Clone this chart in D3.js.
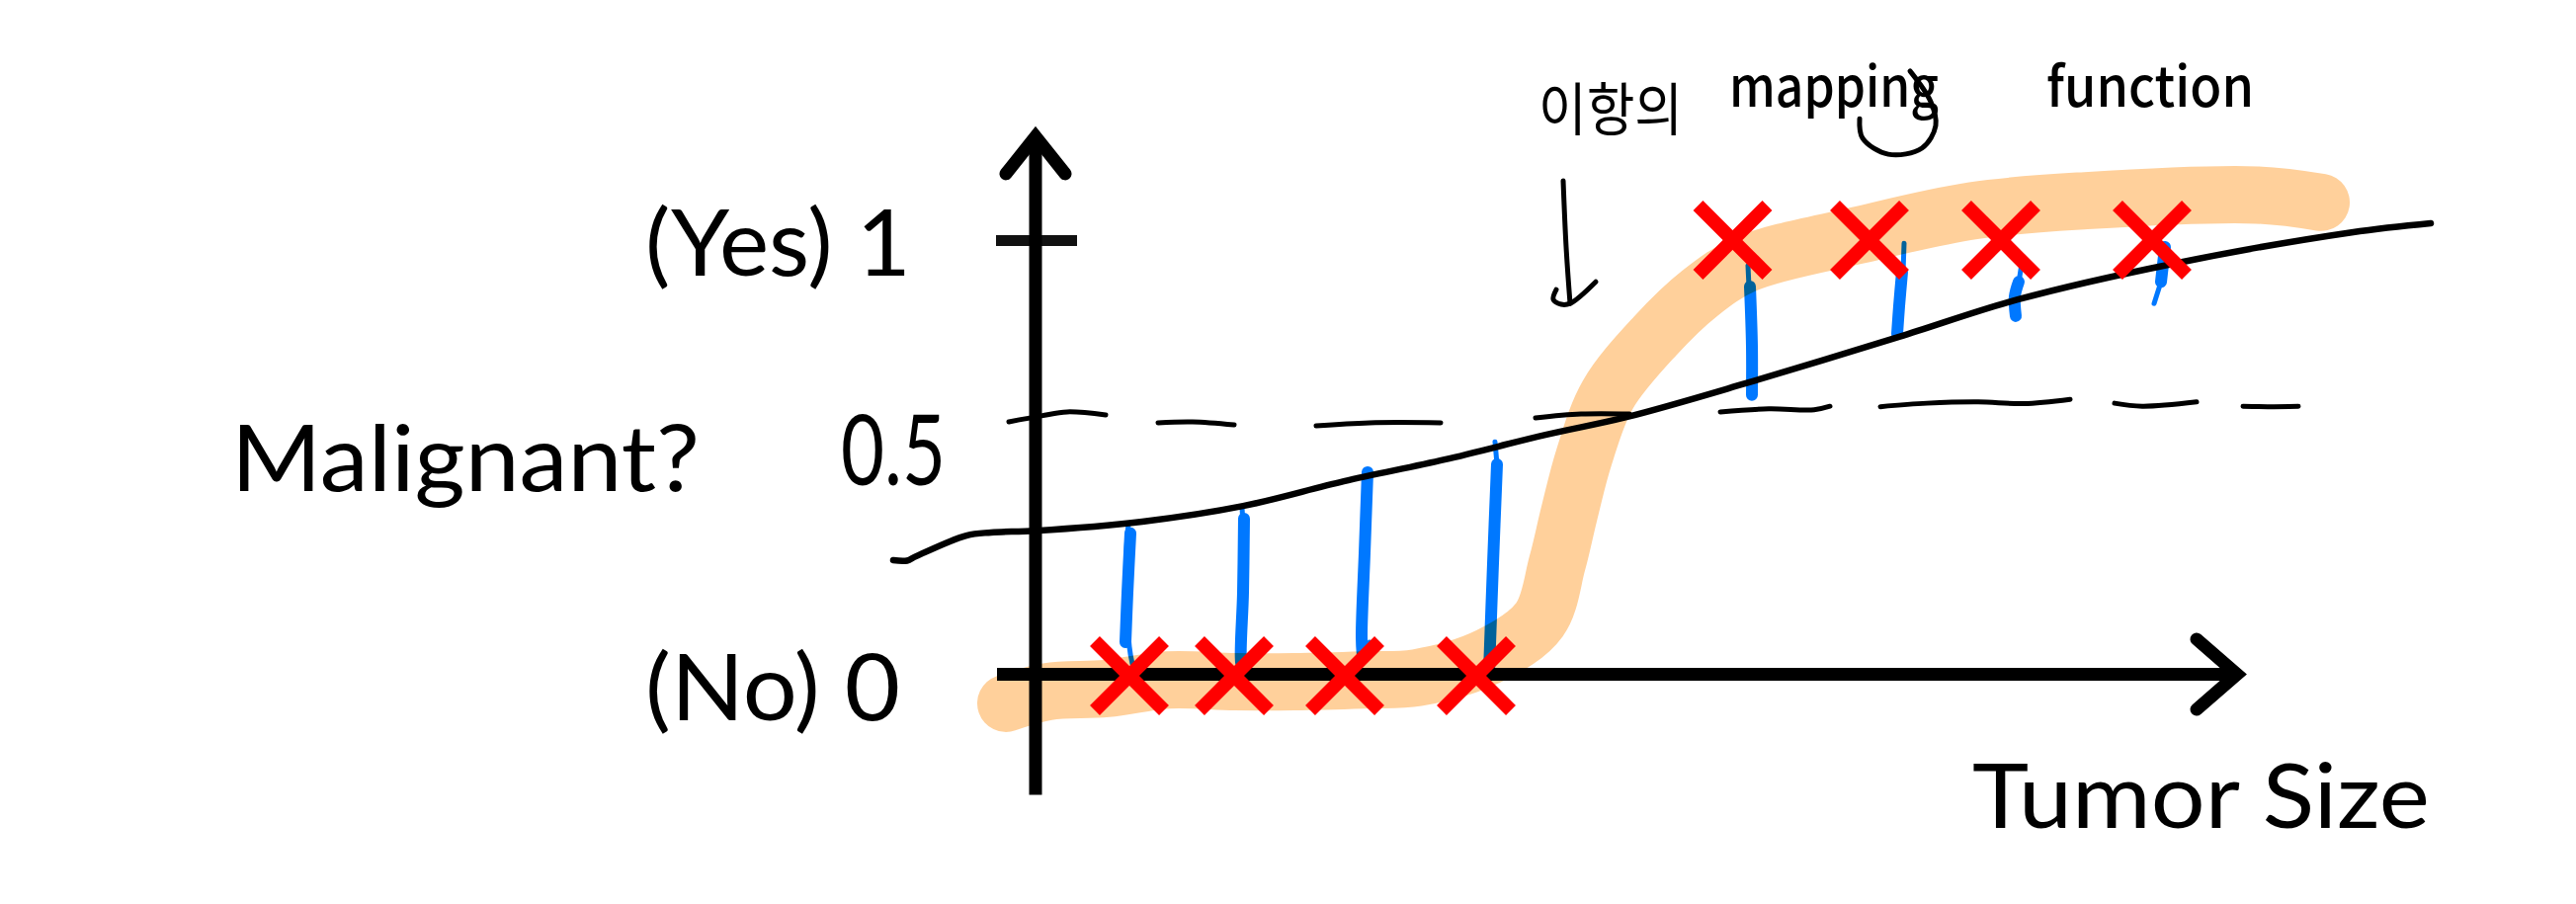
<!DOCTYPE html>
<html><head><meta charset="utf-8">
<script src="https://cdnjs.cloudflare.com/ajax/libs/d3/7.8.5/d3.min.js"></script>
<style>html,body{margin:0;padding:0;background:#fff}svg{display:block}</style>
</head><body><div id="chart"></div>
<script>
// ---- data (tumor size, malignancy) ----
const yTickValues = [0, 1];
const yTickLabels = ["(No) 0", "(Yes) 1"];
const noCases  = [95, 201, 313, 446];
const yesCases = [705.5, 844, 977, 1130];
const sizeExtent = [-39, 1216];
const malignantExtent = [-0.278, 1.24];

const idealSizes = [-30,12,72,134,202,261,332,386,459,510,528,540,555,579,627,672,719,834,949,1063,1236,1301];
const idealValues = [-.067,-.040,-.033,-.013,-.017,-.017,-.013,-.008,.042,.126,.256,.370,.500,.644,.780,.878,.946,1.013,1.069,1.092,1.105,1.088];

const fitSizes = [-144,-130,-121,-70,-45,0,108,210,312,414,516,598,719,874,994,1150,1332,1412];
const fitValues = [.263,.262,.272,.320,.327,.331,.352,.388,.445,.495,.552,.593,.671,.778,.864,.946,1.019,1.040];

const thresholdDashes = [
  [[-27,.582],[6,.596],[32,.605],[71,.598]],
  [[124,.580],[159,.582],[201,.575]],
  [[284,.573],[338,.580],[410,.580]],
  [[506,.591],[552,.600],[601,.600]],
  [[693,.605],[742,.612],[788,.610],[804,.618]],
  [[855,.617],[902,.625],[954,.628],[1000,.624],[1047,.634]],
  [[1092,.625],[1120,.618],[1175,.628]],
  [[1222,.618],[1247,.617],[1278,.618]]
];
const errorThick = [
  [[96,.325],[93,.188],[91,.074]],
  [[211,.359],[210,.188],[208,.028],[210,.013]],
  [[336,.466],[333,.279],[330,.085],[331,.042]],
  [[467,.484],[463,.256],[459,.006]],
  [[723,.894],[725,.757],[725,.644]],
  [[877,.928],[874,.849],[872,.785]],
  [[995,.905],[991,.871],[992,.826]],
  [[1143,.985],[1139,.905]]
];
const errorThin = [
  [[94,.347],[92,.279],[95,.063],[98,.024]],
  [[209,.384],[210,.347]],
  [[338,.074],[331,.042]],
  [[465,.536],[467,.484]],
  [[721,.942],[722,.894]],
  [[879,.994],[878,.928]],
  [[999,.962],[996,.917]],
  [[1139,.905],[1132,.855]]
];
const noteArrowShaft = [[534,1.138],[537,.985],[541,.855]];
const noteArrowHead = [[527,.887],[524,.864],[532,.853],[541,.855],[567,.905]];
const noteTail = [[834,1.281],[837,1.236],[863,1.199],[897,1.213],[911,1.265],[906,1.320],[885,1.391]];

// ---- scales ----
const W = 2607, H = 915;
const x = d3.scaleLinear().domain([0, 1226]).range([1048, 2274]);
const y = d3.scaleLinear().domain([0, 1]).range([682.5, 243.5]);
const line = d3.line().x(d => x(d[0])).y(d => y(d[1]));
const smooth = d3.line().x(d => x(d[0])).y(d => y(d[1])).curve(d3.curveCatmullRom.alpha(0.5));

const svg = d3.select("#chart").append("svg").attr("width", W).attr("height", H).attr("viewBox", `0 0 ${W} ${H}`);
svg.append("rect").attr("width", W).attr("height", H).attr("fill", "#fff");

const FONT = "Lato, 'Open Sans', sans-serif";
const HAND = "'Noto Sans CJK KR', 'Noto Sans', sans-serif";

// blue error bars
svg.append("g").selectAll("path").data(errorThick).join("path").attr("d", smooth)
  .attr("fill","none").attr("stroke","#0078ff").attr("stroke-width",12).attr("stroke-linecap","round");
svg.append("g").selectAll("path").data(errorThin).join("path").attr("d", smooth)
  .attr("fill","none").attr("stroke","#0078ff").attr("stroke-width",5).attr("stroke-linecap","round");

// hand-drawn threshold & fitted line
svg.append("g").selectAll("path").data(thresholdDashes).join("path").attr("d", smooth)
  .attr("fill","none").attr("stroke","#000").attr("stroke-width",5).attr("stroke-linecap","round");
svg.append("path").attr("d", smooth(fitSizes.map((s,i)=>[s,fitValues[i]])))
  .attr("fill","none").attr("stroke","#000").attr("stroke-width",6.5).attr("stroke-linecap","round");

// axes
const yAxis = d3.axisLeft(y).tickValues(yTickValues).tickSize(0).tickFormat((d,i)=>yTickLabels[i]);
const yG = svg.append("g").attr("transform", `translate(${x(0)},0)`).call(yAxis);
yG.select(".domain").remove();
yG.selectAll(".tick").attr("transform", d => `translate(0,${y(d)})`);
yG.selectAll(".tick line").attr("x1",-40).attr("x2",42).attr("stroke",d=>d===1?"#111":"#000").attr("stroke-width",d=>d===1?11:0);
yG.selectAll(".tick text")
  .attr("font-family",FONT).attr("font-size",94).attr("fill","#000")
  .attr("text-anchor","start").attr("dy",null)
  .attr("x", d => 653 - x(0))
  .attr("y", d => d===1 ? 279 - y(1) : 729 - y(0))
  .attr("textLength", d => d===1 ? 269 : 258)
  .attr("lengthAdjust","spacingAndGlyphs");

svg.append("line").attr("x1",x(0)).attr("x2",x(0)).attr("y1",y(malignantExtent[0])).attr("y2",y(malignantExtent[1]))
  .attr("stroke","#000").attr("stroke-width",13);
svg.append("line").attr("x1",x(sizeExtent[0])).attr("x2",x(sizeExtent[1])).attr("y1",y(0)).attr("y2",y(0))
  .attr("stroke","#000").attr("stroke-width",13);
const heads = [[[-30,1.154],[0,1.24],[30,1.154]], [[1175,.081],[1216,0],[1175,-.081]]];
svg.append("g").selectAll("path").data(heads).join("path").attr("d", line)
  .attr("fill","none").attr("stroke","#000").attr("stroke-width",13)
  .attr("stroke-linecap","round").attr("stroke-linejoin","miter");

// note arrow and the tail of the handwritten g
[noteArrowShaft, noteArrowHead, noteTail].forEach(a => svg.append("path").attr("d", smooth(a))
  .attr("fill","none").attr("stroke","#000").attr("stroke-width",5).attr("stroke-linecap","round"));

// red crosses
const arm = 35;
const crosses = noCases.map(s=>[s,0]).concat(yesCases.map(s=>[s,1]));
const xg = svg.append("g").selectAll("g").data(crosses).join("g")
  .attr("transform", d => `translate(${x(d[0])},${y(d[1]) + (d[1]===0?1.5:-0.5)})`);
xg.append("line").attr("x1",-arm).attr("y1",-arm).attr("x2",arm).attr("y2",arm).attr("stroke","#f00").attr("stroke-width",14);
xg.append("line").attr("x1",-arm).attr("y1",arm).attr("x2",arm).attr("y2",-arm).attr("stroke","#f00").attr("stroke-width",14);

// orange highlighter: multiplies over everything beneath it
svg.append("path").attr("d", smooth(idealSizes.map((s,i)=>[s,idealValues[i]])))
  .attr("fill","none").attr("stroke","#ffd09b").attr("stroke-width",58)
  .attr("stroke-linecap","round").attr("stroke-linejoin","round")
  .style("mix-blend-mode","multiply");

// texts
const label = (t,px,py,len,size,fam,weight) => svg.append("text").text(t)
  .attr("x",px).attr("y",py).attr("font-family",fam||FONT).attr("font-size",size)
  .attr("font-weight",weight||400).attr("fill","#000")
  .attr("textLength",len).attr("lengthAdjust","spacingAndGlyphs");
label("Malignant?",234,497,474,94);
label("Tumor Size",1996,838,463,92);
label("0.5",851,491,106,98,FONT,400);
label("이항의",1557,132,146,58,HAND,400);
label("mapping",1750,108,212,56,HAND,500);
label("function",2071,108,210,56,HAND,500);
</script></body></html>
